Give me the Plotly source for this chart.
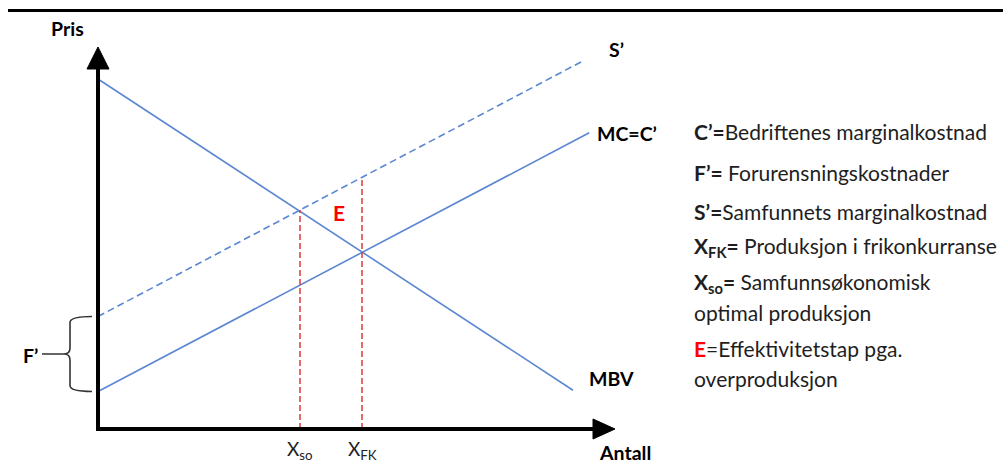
import plotly.graph_objects as go

# ---------------- data (economic units) ----------------
mbv_q = [0.0, 19.0]          # demand / marginal benefit (MBV)
mbv_p = [14.0, 1.55]
mc_q = [0.0, 19.65]          # private marginal cost MC = C'
mc_p = [1.5, 11.85]
s_q = [0.0, 19.45]           # social marginal cost S' = C' + F'
s_p = [4.5, 14.75]
x_so = 8.08                  # socially optimal quantity
x_fk = 10.56                 # free-competition quantity
x_labels = ["X<sub>so</sub>", "X<sub>FK</sub>"]
axis_x_end = 20.68           # arrow tip of quantity axis
axis_y_end = 15.28           # arrow tip of price axis

legend_lines = [
    "<b>C’=</b>Bedriftenes marginalkostnad",
    "<b>F’=</b> Forurensningskostnader",
    "<b>S’=</b>Samfunnets marginalkostnad",
    "<b>X<sub>FK</sub>=</b> Produksjon i frikonkurranse",
    "<b>X<sub>so</sub>=</b> Samfunnsøkonomisk",
    "optimal produksjon",
    "<b><span style='color:#ff0000'>E</span></b>=Effektivitetstap pga.",
    "overproduksjon",
]
legend_py = [131, 172, 211, 247, 283, 312, 348, 378]

# ---------------- layout helpers (pixel -> data for positioning) -------------
W, H = 1003, 463
U = 25.0
OX, OY = 98, 429
def X(px):
    return (px - OX) / U
def Y(py):
    return (OY - py) / U

BLUE = "#5b87d2"
RED = "#e03a3a"
FONT = "Lato"

def line_at(qs, ps, q):
    return ps[0] + (ps[1] - ps[0]) * (q - qs[0]) / (qs[1] - qs[0])

fig = go.Figure()

fig.add_trace(go.Scatter(x=mbv_q, y=mbv_p, mode="lines",
                         line=dict(color=BLUE, width=1.6), hoverinfo="skip"))
fig.add_trace(go.Scatter(x=mc_q, y=mc_p, mode="lines",
                         line=dict(color=BLUE, width=1.6), hoverinfo="skip"))
fig.add_trace(go.Scatter(x=s_q, y=s_p, mode="lines",
                         line=dict(color=BLUE, width=1.6, dash="7px,4px"), hoverinfo="skip"))

for xv in (x_so, x_fk):
    fig.add_trace(go.Scatter(x=[xv, xv], y=[0, line_at(s_q, s_p, xv)], mode="lines",
                             line=dict(color=RED, width=1.5, dash="6px,3px"),
                             hoverinfo="skip"))

# axes with arrows
ah_len = 22 / U
ah_half = 11 / U
fig.add_trace(go.Scatter(x=[0, 0], y=[-2 / U, axis_y_end - ah_len + 0.1], mode="lines",
                         line=dict(color="black", width=4), hoverinfo="skip"))
fig.add_trace(go.Scatter(x=[-2 / U, axis_x_end - ah_len + 0.1], y=[0, 0], mode="lines",
                         line=dict(color="black", width=4), hoverinfo="skip"))
fig.add_trace(go.Scatter(x=[-ah_half, ah_half, 0, -ah_half],
                         y=[axis_y_end - ah_len, axis_y_end - ah_len, axis_y_end, axis_y_end - ah_len],
                         mode="lines", fill="toself", fillcolor="black",
                         line=dict(color="black", width=1), hoverinfo="skip"))
ah_half_x = 10 / U
fig.add_trace(go.Scatter(x=[axis_x_end - ah_len, axis_x_end - ah_len, axis_x_end, axis_x_end - ah_len],
                         y=[-ah_half_x, ah_half_x, 0, -ah_half_x],
                         mode="lines", fill="toself", fillcolor="black",
                         line=dict(color="black", width=1), hoverinfo="skip"))

# brace for F'
top = s_p[0]
bot = mc_p[0]
mid = (top + bot) / 2
xr, xb, xt = X(92), X(70), X(42)
c = 6 / U
path = (f"M {xr},{top} Q {xb},{top} {xb},{top - c} L {xb},{mid + c} "
        f"Q {xb},{mid} {xb - c},{mid} L {xt},{mid} "
        f"M {xb - c},{mid} Q {xb},{mid} {xb},{mid - c} L {xb},{bot + c} "
        f"Q {xb},{bot} {xr},{bot}")
shapes = [
    dict(type="path", path=path, xref="x", yref="y",
         line=dict(color="#333333", width=1.6)),
    dict(type="line", xref="paper", yref="paper", x0=8 / W, x1=1, y0=1 - 10.5 / H, y1=1 - 10.5 / H,
         line=dict(color="black", width=3)),
]

ann = []
def label(text, px, py, size=19.5, bold=True, color="black", xanchor="center"):
    t = f"<b>{text}</b>" if bold else text
    ann.append(dict(x=X(px), y=Y(py), text=t, showarrow=False, xanchor=xanchor, yanchor="middle",
                    font=dict(family=FONT, size=size, color=color)))

label("Pris", 67, 28)
label("S’", 616, 49)
label("MC=C’", 627, 133)
label("MBV", 611, 378)
label("Antall", 625, 452)
label("F’", 30, 355)
label("E", 339, 212, size=21, color="#ff0000")
for txt, xv in zip(x_labels, (x_so, x_fk)):
    ann.append(dict(x=xv, y=Y(450), text=txt, showarrow=False, xanchor="center", yanchor="middle",
                    font=dict(family=FONT, size=19, color="#222222")))
for txt, py in zip(legend_lines, legend_py):
    label(txt, 692, py, size=21, bold=False, color="#1e1e1e", xanchor="left")

fig.update_layout(
    width=W, height=H, margin=dict(l=0, r=0, t=0, b=0),
    paper_bgcolor="white", plot_bgcolor="white", showlegend=False,
    xaxis=dict(range=[X(0), X(W)], visible=False, fixedrange=True),
    yaxis=dict(range=[Y(H), Y(0)], visible=False, fixedrange=True),
    shapes=shapes, annotations=ann,
)

fig.write_html("out.html", config={"displayModeBar": False},
               post_script="document.body.style.margin='0';document.body.style.overflow='hidden';")
